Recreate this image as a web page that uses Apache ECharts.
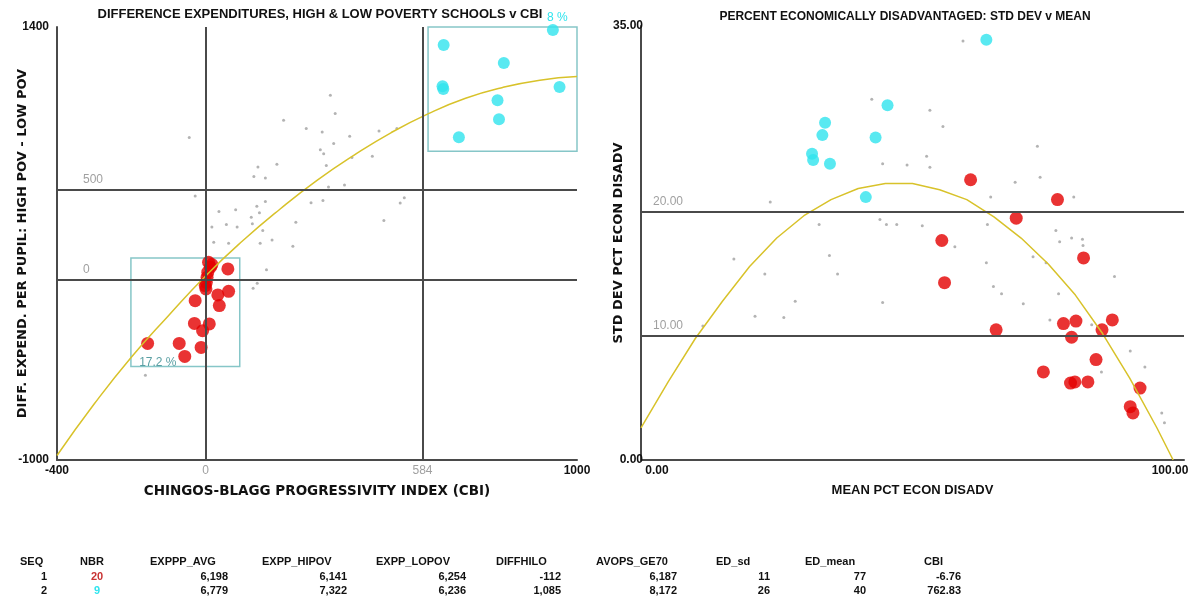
<!DOCTYPE html>
<html>
<head>
<meta charset="utf-8">
<title>CBI v expenditures</title>
<script src="https://cdn.jsdelivr.net/npm/echarts@6/dist/echarts.min.js"></script>
<style>
html, body { margin: 0; padding: 0; background: #fff; }
#main { width: 1194px; height: 608px; }
</style>
</head>
<body>
<div id="main"></div>
<script>
// left panel: CBI (x) v difference in per pupil expenditure (y)
var cbiTicks = [-400, 0, 584, 1000];
var diffTicks = [-1000, 1400];
var cbiLines = [0, 584];
var diffLines = [0, 500];

var leftOthers = [[-44,787],[336,1022],[349,920],[210,883],[271,837],[314,818],[388,794],[345,754],
    [309,720],[318,698],[394,676],[449,683],[467,824],[515,837],[192,639],[141,624],[130,572],[161,563],
    [325,633],[331,513],[374,524],[-28,463],[36,378],[81,387],[138,407],[161,433],[123,346],[145,370],
    [56,306],[85,291],[126,309],[17,291],[154,272],[243,318],[284,426],[316,439],[480,328],[524,424],
    [535,454],[179,220],[147,202],[235,185],[22,207],[62,202],[164,55],[139,-20],[128,-48],[-162,-530]];
var leftGroup1 = [[8,96],[13,69],[6,41],[4,13],[2,-15],[1,-52],[60,59],[62,-65],[33,-85],[37,-144],
    [-28,-117],[-30,-243],[10,-246],[-8,-283],[-12,-376],[-71,-354],[-56,-426],[-156,-354],[17,83],[-1,-33]];
var leftGroup2 = [[641,1300],[638,1072],[640,1056],[682,789],[786,994],[790,889],[803,1200],[935,1383],[953,1067]];
var leftFitX = [-400,-300,-200,-100,0,100,200,300,400,500,600,700,800,900,1000];
var leftFitY = [-975,-690,-430,-200,20,215,390,550,690,815,920,1005,1065,1105,1125];
var box1 = [-201, 92, -482, 120];
var box2 = [599, 1008, 711, 1400];
var box1Label = '17.2 %';
var box2Label = '8 %';

// right panel: mean v std dev of pct economically disadvantaged
var meanTicks = [0, 100];
var sdTicks = [0, 35];
var sdLines = [10, 20];
var rightOthers = [[59.3,33.8],[42.5,29.1],[53.2,28.2],[55.6,26.9],[73.0,25.3],[52.6,24.5],[53.2,23.6],
    [44.5,23.9],[49.0,23.8],[73.5,22.8],[68.9,22.4],[79.7,21.2],[64.4,21.2],[23.8,20.8],[32.8,19.0],
    [44.0,19.4],[45.2,19.0],[47.1,19.0],[51.8,18.9],[63.8,19.0],[76.4,18.5],[79.3,17.9],[81.3,17.8],
    [77.1,17.6],[81.4,17.3],[57.8,17.2],[17.1,16.2],[34.7,16.5],[22.8,15.0],[36.2,15.0],[63.6,15.9],
    [72.2,16.4],[74.6,15.9],[87.2,14.8],[64.9,14.0],[66.4,13.4],[76.9,13.4],[70.4,12.6],[28.4,12.8],
    [44.5,12.7],[21.0,11.6],[26.3,11.5],[75.3,11.3],[83.0,10.9],[11.4,10.8],[90.1,8.8],[92.8,7.5],
    [84.8,7.1],[95.9,3.8],[96.4,3.0]];
var rightGroup1 = [[60.7,22.6],[76.7,21.0],[69.1,19.5],[55.4,17.7],[55.9,14.3],[81.5,16.3],[65.4,10.5],
    [77.8,11.0],[80.1,11.2],[79.3,9.9],[84.9,10.5],[86.8,11.3],[83.8,8.1],[74.1,7.1],[79.1,6.2],
    [79.9,6.3],[82.3,6.3],[91.9,5.8],[90.1,4.3],[90.6,3.8]];
var rightGroup2 = [[63.6,33.9],[45.4,28.6],[33.9,27.2],[33.4,26.2],[43.2,26.0],[31.5,24.7],[31.7,24.2],
    [34.8,23.9],[41.4,21.2]];
var rightFitX = [0,5,10,15,20,25,30,35,40,45,50,55,60,65,70,75,80,85,90,95,98];
var rightFitY = [2.6,6.3,9.8,12.8,15.6,17.9,19.7,21.0,21.9,22.3,22.3,21.8,21.0,19.6,17.9,15.8,13.3,10.2,6.6,2.6,0];

// summary table
var tableCols = ['SEQ','NBR','EXPPP_AVG','EXPP_HIPOV','EXPP_LOPOV','DIFFHILO','AVOPS_GE70','ED_sd','ED_mean','CBI'];
var tableRows = [
    ['1','20','6,198','6,141','6,254','-112','6,187','11','77','-6.76'],
    ['2','9','6,779','7,322','6,236','1,085','8,172','26','40','762.83']
];

var FONT = '"Liberation Sans", Arial, sans-serif';
var WIDE = '"DejaVu Sans", Verdana, sans-serif';
var RED = '#e30000', CYAN = '#2fe4ee', GRAY = '#a0a0a0', LINE = '#4a4a4a', FIT = '#d8c22a';

function zip(xs, ys) {
    var out = [];
    for (var i = 0; i < xs.length; i++) out.push([xs[i], ys[i]]);
    return out;
}

function boldText(txt, x, y, align, color, size) {
    return {
        type: 'text', x: x, y: y,
        style: {
            text: txt, fill: color || '#111', font: 'bold ' + (size || 12) + 'px ' + FONT,
            textAlign: align || 'left', textVerticalAlign: 'middle'
        }
    };
}

// layout of the table (header left edge, value right edge)
var colHead = [20, 80, 150, 262, 376, 496, 596, 716, 805, 924];
var colVal = [47, 105, 228, 347, 466, 561, 677, 770, 866, 961];
var rowY = [562, 577, 591];

var graphics = [
    boldText('DIFFERENCE EXPENDITURES, HIGH & LOW POVERTY SCHOOLS v CBI', 320, 14, 'center', '#111', 13),
    boldText('PERCENT ECONOMICALLY DISADVANTAGED: STD DEV v MEAN', 905, 17, 'center')
];
tableCols.forEach(function (c, i) {
    graphics.push(boldText(c, colHead[i], rowY[0], 'left', '#111', 11));
});
tableRows.forEach(function (row, r) {
    row.forEach(function (v, i) {
        var color = '#111';
        if (i === 1) color = r === 0 ? '#c83232' : CYAN;
        var align = i === 1 ? 'center' : 'right';
        var x = i === 1 ? 97 : colVal[i];
        graphics.push(boldText(v, x, rowY[r + 1], align, color, 11));
    });
});

var markLineBase = {
    silent: true,
    symbol: ['none', 'none'],
    lineStyle: { color: LINE, width: 2, type: 'solid' },
    label: { show: false }
};
function hLine(v, txt, dist) {
    return {
        yAxis: v,
        label: { show: true, formatter: txt, position: 'insideStartTop', distance: dist,
            color: GRAY, fontSize: 12, fontFamily: FONT }
    };
}

var leftMarks = cbiLines.map(function (v) { return { xAxis: v }; });
diffLines.forEach(function (v) { leftMarks.push(hLine(v, String(v), [26, 4])); });
var rightMarks = sdLines.map(function (v) { return hLine(v, v.toFixed(2), [12, 4]); });

function areaItem(b, txt, pos, offset) {
    return [{
        xAxis: b[0], yAxis: b[3],
        label: { show: true, formatter: txt, position: pos, offset: offset, color: pos === 'insideBottomLeft' ? '#5a9fa3' : CYAN,
            fontSize: 12, fontFamily: FONT }
    }, { xAxis: b[1], yAxis: b[2] }];
}
var areaStyle = { color: 'rgba(0,0,0,0)', borderColor: '#86c6c8', borderWidth: 1.5 };

var axisCommon = {
    type: 'value',
    splitLine: { show: false },
    axisTick: { show: false },
    nameMoveOverlap: false,
    axisLine: { onZero: false, lineStyle: { color: LINE, width: 2 } },
    nameTextStyle: { fontWeight: 'bold', fontSize: 13, color: '#111', fontFamily: FONT }
};
function axis(extra) {
    return Object.assign({}, axisCommon, extra);
}
var yNameStyle = { fontWeight: 'bold', fontSize: 13, color: '#111', fontFamily: WIDE };

var option = {
    animation: false,
    backgroundColor: '#fff',
    textStyle: { fontFamily: FONT },
    grid: [
        { left: 57, top: 27, width: 520, height: 433 },
        { left: 641, top: 26, width: 543, height: 434 }
    ],
    xAxis: [
        axis({
            gridIndex: 0, min: cbiTicks[0], max: cbiTicks[cbiTicks.length - 1],
            name: 'CHINGOS-BLAGG PROGRESSIVITY INDEX (CBI)', nameLocation: 'middle', nameGap: 24,
            nameTextStyle: { fontWeight: 'bold', fontSize: 13.5, color: '#111', fontFamily: WIDE },
            axisLabel: {
                customValues: cbiTicks, margin: 5,
                formatter: function (v) {
                    return (v === cbiTicks[0] || v === cbiTicks[cbiTicks.length - 1]) ? '{e|' + v + '}' : '{m|' + v + '}';
                },
                rich: {
                    e: { fontWeight: 'bold', fontSize: 12, color: '#111', fontFamily: FONT },
                    m: { fontSize: 12, color: GRAY, fontFamily: FONT }
                }
            }
        }),
        axis({
            gridIndex: 1, min: meanTicks[0], max: meanTicks[1],
            name: 'MEAN PCT ECON DISADV', nameLocation: 'middle', nameGap: 24,
            axisLabel: {
                customValues: meanTicks, margin: 5,
                formatter: function (v) { return v === meanTicks[0] ? '{a|' + v.toFixed(2) + '}' : '{b|' + v.toFixed(2) + '}'; },
                rich: {
                    a: { fontWeight: 'bold', fontSize: 12, color: '#111', fontFamily: FONT, padding: [0, 0, 0, 32] },
                    b: { fontWeight: 'bold', fontSize: 12, color: '#111', fontFamily: FONT, padding: [0, 28, 0, 0] }
                }
            }
        })
    ],
    yAxis: [
        axis({
            gridIndex: 0, min: diffTicks[0], max: diffTicks[1],
            name: 'DIFF. EXPEND. PER PUPIL: HIGH POV - LOW POV', nameLocation: 'middle', nameGap: 28,
            nameTextStyle: yNameStyle,
            axisLabel: { customValues: diffTicks, margin: 8, fontWeight: 'bold', fontSize: 12, color: '#111',
                formatter: function (v) { return String(v); } }
        }),
        axis({
            gridIndex: 1, min: sdTicks[0], max: sdTicks[1],
            name: 'STD DEV PCT ECON DISADV', nameLocation: 'middle', nameGap: 16,
            nameTextStyle: yNameStyle,
            axisLabel: {
                customValues: sdTicks, margin: -2, fontWeight: 'bold', fontSize: 12, color: '#111',
                formatter: function (v) { return v.toFixed(2); }
            }
        })
    ],
    series: [
        {
            type: 'scatter', xAxisIndex: 0, yAxisIndex: 0, data: leftOthers,
            symbolSize: 3, itemStyle: { color: GRAY }, silent: true,
            markLine: Object.assign({}, markLineBase, { data: leftMarks })
        },
        {
            type: 'line', xAxisIndex: 0, yAxisIndex: 0, data: zip(leftFitX, leftFitY),
            smooth: true, showSymbol: false, lineStyle: { color: FIT, width: 1.5 }, silent: true
        },
        {
            type: 'scatter', xAxisIndex: 0, yAxisIndex: 0, data: leftGroup2,
            symbolSize: 12, itemStyle: { color: CYAN }, silent: true,
            markArea: { silent: true, itemStyle: areaStyle, data: [areaItem(box2, box2Label, 'insideTopRight', [-5, -20])] }
        },
        {
            type: 'scatter', xAxisIndex: 0, yAxisIndex: 0, data: leftGroup1,
            symbolSize: 13, itemStyle: { color: RED }, silent: true,
            markArea: { silent: true, itemStyle: areaStyle, data: [areaItem(box1, box1Label, 'insideBottomLeft', [4, 6])] }
        },
        {
            type: 'scatter', xAxisIndex: 1, yAxisIndex: 1, data: rightOthers,
            symbolSize: 3, itemStyle: { color: GRAY }, silent: true,
            markLine: Object.assign({}, markLineBase, { data: rightMarks })
        },
        {
            type: 'line', xAxisIndex: 1, yAxisIndex: 1, data: zip(rightFitX, rightFitY),
            smooth: false, showSymbol: false, lineStyle: { color: FIT, width: 1.5 }, silent: true
        },
        {
            type: 'scatter', xAxisIndex: 1, yAxisIndex: 1, data: rightGroup2,
            symbolSize: 12, itemStyle: { color: CYAN }, silent: true
        },
        {
            type: 'scatter', xAxisIndex: 1, yAxisIndex: 1, data: rightGroup1,
            symbolSize: 13, itemStyle: { color: RED }, silent: true
        }
    ],
    graphic: graphics
};

var myChart = echarts.init(document.getElementById('main'));
myChart.setOption(option);
</script>
</body>
</html>
